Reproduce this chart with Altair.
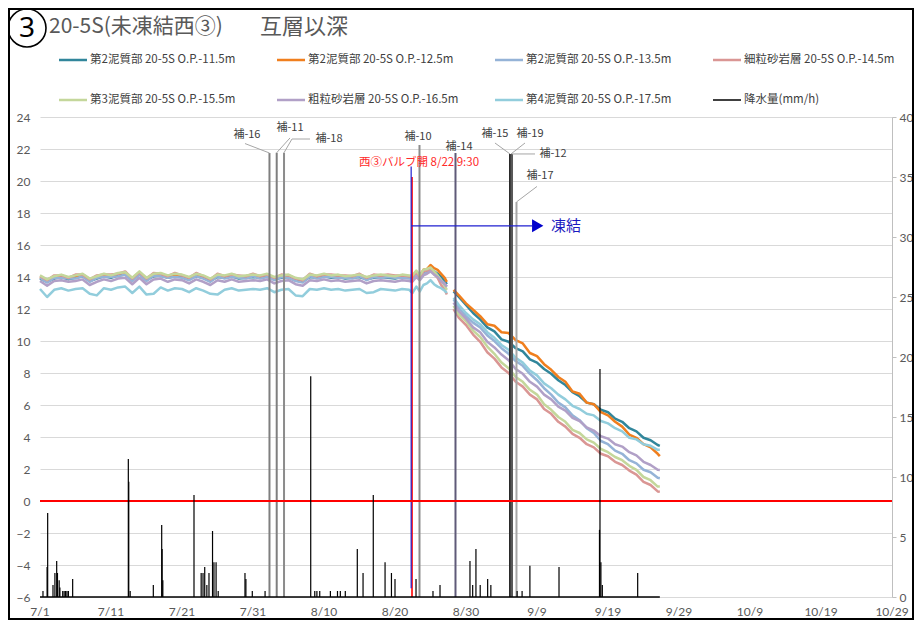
import altair as alt
import pandas as pd

# ---------------- data ----------------
series_names = [
    "第2泥質部 20-5S O.P.-11.5m",
    "第2泥質部 20-5S O.P.-12.5m",
    "第2泥質部 20-5S O.P.-13.5m",
    "細粒砂岩層 20-5S O.P.-14.5m",
    "第3泥質部 20-5S O.P.-15.5m",
    "粗粒砂岩層 20-5S O.P.-16.5m",
    "第4泥質部 20-5S O.P.-17.5m",
]
rain_name = "降水量(mm/h)"

# days since 7/1 (segment 1: 7/1 .. 8/27 morning, segment 2: 8/28 .. 9/26)
seg1_days = list(range(0, 53)) + [52.45, 53.0, 53.5, 54.0, 54.5, 55.0, 55.5, 56.0, 56.5, 57.0, 57.3]
seg2_days = [58.25] + list(range(59, 88)) + [87.3]

t115_s1 = [13.90, 13.70, 13.90, 14.00, 13.85, 13.95, 14.05, 13.75, 13.90, 14.05,
           13.95, 14.10, 14.15, 13.80, 14.20, 13.80, 14.05, 14.10, 13.95, 14.05,
           14.00, 13.85, 14.05, 13.95, 13.75, 14.00, 13.95, 14.05, 13.90, 13.95,
           14.00, 13.95, 14.05, 13.85, 13.95, 14.00, 13.80, 13.70, 14.00, 13.95,
           14.05, 13.95, 14.00, 13.90, 13.95, 14.00, 13.85, 13.95, 14.00, 13.95,
           13.90, 14.00, 13.95,
           13.90, 14.20, 14.00, 14.30, 14.35, 14.50, 14.35, 14.20, 14.00, 13.75, 13.55]
t125_s1 = [14.00, 13.80, 14.00, 14.10, 13.95, 14.05, 14.15, 13.85, 14.00, 14.15,
           14.05, 14.20, 14.25, 13.90, 14.30, 13.90, 14.15, 14.20, 14.05, 14.15,
           14.10, 13.95, 14.15, 14.05, 13.85, 14.10, 14.05, 14.15, 14.00, 14.05,
           14.10, 14.05, 14.15, 13.95, 14.05, 14.10, 13.90, 13.80, 14.10, 14.05,
           14.15, 14.05, 14.10, 14.00, 14.05, 14.10, 13.95, 14.05, 14.10, 14.05,
           14.00, 14.10, 14.05,
           14.00, 14.30, 14.10, 14.45, 14.50, 14.75, 14.55, 14.45, 14.20, 13.95, 13.70]
t135_s1 = [13.95, 13.65, 13.95, 13.95, 13.90, 13.90, 14.05, 13.70, 13.95, 14.00,
           14.00, 14.05, 14.15, 13.75, 14.15, 13.75, 14.10, 14.05, 13.95, 14.00,
           13.95, 13.80, 14.05, 13.90, 13.70, 14.05, 13.90, 14.00, 13.95, 13.90,
           14.05, 13.90, 14.00, 13.80, 14.00, 13.95, 13.75, 13.65, 14.05, 13.90,
           14.00, 14.00, 13.95, 13.95, 13.90, 14.05, 13.80, 14.00, 13.95, 14.00,
           13.95, 13.95, 13.90,
           13.90, 14.10, 13.90, 14.20, 14.25, 14.40, 14.20, 14.05, 13.80, 13.60, 13.40]
t145_s1 = [14.05, 13.80, 14.10, 14.10, 13.95, 14.15, 14.15, 13.85, 14.10, 14.15,
           14.15, 14.20, 14.35, 13.90, 14.30, 13.90, 14.25, 14.20, 14.05, 14.25,
           14.10, 13.95, 14.25, 14.05, 13.85, 14.20, 14.05, 14.15, 14.10, 14.05,
           14.20, 14.05, 14.15, 13.95, 14.15, 14.10, 13.90, 13.80, 14.20, 14.05,
           14.15, 14.15, 14.10, 14.10, 14.05, 14.20, 13.95, 14.15, 14.10, 14.15,
           14.10, 14.10, 14.05,
           14.00, 14.30, 14.00, 14.35, 14.40, 14.50, 14.20, 13.95, 13.50, 13.20, 12.90]
t155_s1 = [14.10, 13.85, 14.05, 14.15, 14.00, 14.10, 14.20, 13.90, 14.05, 14.20,
           14.10, 14.25, 14.30, 13.95, 14.35, 13.95, 14.20, 14.25, 14.10, 14.20,
           14.15, 14.00, 14.20, 14.10, 13.90, 14.15, 14.10, 14.20, 14.05, 14.10,
           14.15, 14.10, 14.20, 14.00, 14.10, 14.15, 13.95, 13.85, 14.15, 14.10,
           14.20, 14.10, 14.15, 14.05, 14.10, 14.15, 14.00, 14.10, 14.15, 14.10,
           14.05, 14.15, 14.10,
           14.10, 14.40, 14.10, 14.45, 14.50, 14.60, 14.35, 14.10, 13.80, 13.45, 13.20]
t165_s1 = [13.75, 13.45, 13.75, 13.80, 13.70, 13.75, 13.85, 13.50, 13.70, 13.85,
           13.75, 13.90, 13.95, 13.55, 13.95, 13.55, 13.85, 13.90, 13.70, 13.85,
           13.80, 13.60, 13.85, 13.70, 13.50, 13.80, 13.70, 13.85, 13.70, 13.75,
           13.80, 13.75, 13.85, 13.60, 13.75, 13.80, 13.55, 13.45, 13.80, 13.75,
           13.85, 13.75, 13.80, 13.70, 13.75, 13.80, 13.60, 13.75, 13.80, 13.75,
           13.70, 13.80, 13.75,
           13.70, 14.00, 13.80, 14.10, 14.20, 14.35, 14.15, 14.00, 13.75, 13.55, 13.40]
t175_s1 = [13.25, 12.75, 13.20, 13.30, 13.15, 13.25, 13.30, 12.95, 12.85, 13.30,
           13.20, 13.35, 13.40, 13.00, 13.40, 12.90, 12.95, 13.35, 13.15, 13.30,
           13.25, 13.05, 13.30, 13.15, 12.95, 12.90, 13.20, 13.30, 13.15, 13.20,
           13.25, 13.20, 13.30, 13.05, 13.20, 13.25, 12.85, 12.80, 13.25, 13.20,
           13.30, 13.20, 13.25, 13.15, 13.20, 13.25, 13.00, 13.05, 13.25, 13.20,
           13.15, 13.25, 13.20,
           13.00, 13.40, 13.10, 13.50, 13.60, 13.80, 13.55, 13.40, 13.30, 13.15, 13.00]

t115_s2 = [13.10, 12.75, 12.25, 11.75, 11.35, 10.85, 10.60, 10.10, 9.95, 9.55,
           9.35, 8.85, 8.65, 8.25, 7.95, 7.55, 7.25, 6.80, 6.55, 6.15,
           6.05, 5.70, 5.55, 5.15, 4.95, 4.55, 4.35, 3.95, 3.80, 3.50, 3.45]
t125_s2 = [13.20, 12.85, 12.35, 11.95, 11.55, 11.05, 10.95, 10.55, 10.50, 10.05,
           9.85, 9.25, 9.05, 8.55, 8.20, 7.75, 7.45, 6.85, 6.70, 6.15,
           6.05, 5.55, 5.35, 4.95, 4.65, 4.15, 3.95, 3.55, 3.35, 2.95, 2.80]
t135_s2 = [12.60, 12.05, 11.55, 11.15, 10.85, 10.35, 10.00, 9.55, 9.20, 8.75,
           8.45, 7.95, 7.55, 7.05, 6.65, 6.15, 5.85, 5.35, 5.05, 4.55,
           4.25, 3.75, 3.55, 3.15, 2.95, 2.55, 2.35, 1.95, 1.80, 1.45, 1.42]
t145_s2 = [12.00, 11.45, 11.00, 10.40, 9.95, 9.30, 8.90, 8.35, 8.00, 7.45,
           7.15, 6.65, 6.35, 5.75, 5.45, 4.95, 4.65, 4.20, 3.95, 3.55,
           3.35, 2.95, 2.80, 2.45, 2.25, 1.90, 1.65, 1.20, 1.00, 0.60, 0.58]
t155_s2 = [12.20, 11.65, 11.25, 10.65, 10.25, 9.65, 9.20, 8.65, 8.30, 7.75,
           7.45, 6.95, 6.65, 6.05, 5.70, 5.25, 4.95, 4.45, 4.25, 3.85,
           3.65, 3.25, 3.05, 2.75, 2.55, 2.20, 1.95, 1.50, 1.30, 0.90, 0.90]
t165_s2 = [12.40, 11.85, 11.40, 10.85, 10.55, 9.95, 9.60, 9.15, 8.80, 8.25,
           7.95, 7.45, 7.15, 6.65, 6.35, 5.90, 5.65, 5.20, 5.00, 4.60,
           4.40, 4.05, 3.90, 3.55, 3.40, 3.05, 2.85, 2.45, 2.25, 1.95, 1.94]
t175_s2 = [12.70, 12.25, 11.75, 11.35, 11.05, 10.55, 10.20, 9.75, 9.45, 8.95,
           8.65, 8.15, 7.85, 7.35, 7.05, 6.65, 6.35, 5.95, 5.75, 5.45,
           5.35, 5.00, 4.85, 4.55, 4.35, 3.95, 3.85, 3.55, 3.45, 3.20, 3.20]

seg1_values = [t115_s1, t125_s1, t135_s1, t145_s1, t155_s1, t165_s1, t175_s1]
seg2_values = [t115_s2, t125_s2, t135_s2, t145_s2, t155_s2, t165_s2, t175_s2]

# rainfall (mm/h) events
rain_days = [0.42, 1.0, 1.08, 1.83, 2.1, 2.35, 2.46, 2.7, 2.8, 3.2, 3.4, 3.6, 3.8, 4.0, 4.6,
             12.44, 12.5, 12.7, 15.96, 17.14, 17.2, 17.3,
             21.69, 22.7, 22.96, 23.2, 23.5, 23.8, 24.3, 24.5, 24.8, 25.1,
             28.87, 29.0, 29.9, 31.7,
             38.13, 38.7, 39.0, 39.4, 40.9, 41.9, 42.3, 43.0,
             44.69, 45.5, 46.94, 48.6, 49.5, 50.0, 52.96, 55.35, 56.34,
             60.56, 60.94, 61.4, 62.0, 63.05, 63.5, 67.2, 67.9, 69.0, 73.1,
             78.8, 78.87, 79.0, 79.2, 84.18]
rain_mm = [0.5, 2.5, 7.0, 1.0, 2.0, 3.0, 2.0, 1.4, 0.8, 0.5, 0.5, 0.5, 0.5, 0.5, 1.5,
           11.5, 9.6, 0.5, 1.0, 6.0, 4.0, 1.4,
           8.5, 2.0, 2.0, 2.5, 1.0, 2.0, 5.5, 2.9, 2.9, 0.5,
           2.0, 1.5, 0.5, 0.5,
           18.4, 0.5, 0.5, 0.5, 0.5, 0.5, 0.5, 0.5,
           4.0, 2.0, 8.5, 2.9, 2.0, 1.5, 1.5, 0.5, 1.0,
           3.0, 1.0, 4.0, 1.0, 1.5, 1.0, 0.5, 0.5, 2.6, 2.5,
           5.6, 19.0, 2.9, 1.0, 2.0]
rain_span = [0.0, 87.3]

# supplementary holes (補) : vertical lines
hole_names = ["補-16", "補-11", "補-18", "補-10", "補-14", "補-15", "補-19", "補-12", "補-17"]
hole_days = [32.32, 33.34, 34.37, 53.45, 58.52, 66.20, 66.34, 66.48, 67.11]
hole_tops = [21.75, 21.77, 21.77, 22.25, 21.75, 21.69, 21.69, 21.69, 18.69]
hole_label_days = [29.15, 35.21, 40.70, 53.24, 59.01, 64.08, 69.01, 72.25, 70.42]
hole_label_vals = [22.875, 23.31, 22.625, 22.78, 22.125, 22.94, 22.94, 21.69, 20.31]
# leader lines: (day1, val1, day2, val2)
leaders = [(32.32, 21.75, 28.87, 22.34), (33.34, 21.77, 35.21, 22.69),
           (34.37, 21.77, 35.49, 22.625), (35.49, 22.625, 38.03, 22.625),
           (66.20, 21.69, 64.08, 22.375), (66.34, 21.69, 68.31, 22.375),
           (66.48, 21.69, 69.72, 21.69), (67.11, 18.69, 70.00, 19.66)]

valve_day = 52.396
valve_label = "西③バルブ開 8/22 9:30"
freeze_label = "凍結"

x_tick_days = list(range(0, 121, 10))
x_tick_labels = ["7/1", "7/11", "7/21", "7/31", "8/10", "8/20", "8/30",
                 "9/9", "9/19", "9/29", "10/9", "10/19", "10/29"]
y_left_ticks = list(range(-6, 25, 2))
y_right_ticks = list(range(0, 41, 5))

# ---------------- styles ----------------
series_colors = ["#31869B", "#F07F1E", "#95B3D7", "#DA9694", "#C4D79B", "#B1A0C7", "#92CDDC"]
hole_colors = ["#7f7f7f", "#7f7f7f", "#8c8c8c", "#8c8c8c", "#5f5a78", "#262626", "#404040", "#595959", "#a6a6a6"]
JP = "Noto Sans CJK JP"
NUM = "Lato"
GRID = "#d9d9d9"
LABEL = "#595959"

rows = []
for name, s1, s2 in zip(series_names, seg1_values, seg2_values):
    assert len(s1) == len(seg1_days) and len(s2) == len(seg2_days)
    for d, v in zip(seg1_days, s1):
        rows.append({"series": name, "seg": 1, "day": d, "value": v})
    for d, v in zip(seg2_days, s2):
        rows.append({"series": name, "seg": 2, "day": d, "value": v})
df = pd.DataFrame(rows)

df_rain = pd.DataFrame({"day": rain_days, "mm": rain_mm, "zero": 0.0})
df_rain_base = pd.DataFrame({"d0": [rain_span[0]], "d1": [rain_span[1]], "zero": [0.0]})
df_holes = pd.DataFrame({"name": hole_names, "day": hole_days, "top": hole_tops, "bottom": -6.0})
df_hole_labels = pd.DataFrame({"name": hole_names, "day": hole_label_days, "value": hole_label_vals})
df_lead = pd.DataFrame(leaders, columns=["d1", "v1", "d2", "v2"])
df_valve = pd.DataFrame({"d": [valve_day], "db": [valve_day - 0.12],
                         "r0": [-6.0], "r1": [20.25], "b0": [-5.45], "b1": [20.9],
                         "da0": [valve_day - 0.1], "da1": [69.3], "arr": [17.2],
                         "tri": [70.1], "dlab": [71.97], "dv": [53.38], "vv": [21.125]})
df_zero = pd.DataFrame({"zero": [0.0]})
df_xt = pd.DataFrame({"day": x_tick_days, "label": x_tick_labels})
one = pd.DataFrame({"k": [0]})

x_scale = alt.Scale(domain=[0, 120], nice=False, zero=False)
x_axis = alt.Axis(values=x_tick_days, title=None, grid=True, gridColor=GRID, gridWidth=1,
                  domain=False, ticks=False, labels=False)
y_scale = alt.Scale(domain=[-6, 24], nice=False, zero=False)
y_axis = alt.Axis(values=y_left_ticks, title=None, grid=True, gridColor=GRID, gridWidth=1,
                  domain=False, ticks=False, labelFont=NUM, labelFontSize=12, labelColor=LABEL,
                  labelPadding=10)
y_r_scale = alt.Scale(domain=[0, 40], nice=False, zero=True)
y_r_axis = alt.Axis(orient="right", values=y_right_ticks, title=None, grid=False,
                    domain=True, domainColor="#bfbfbf", ticks=True, tickColor="#bfbfbf", tickSize=4,
                    labelFont=NUM, labelFontSize=12, labelColor=LABEL, labelPadding=3)


def X(field):
    return alt.X(field, scale=x_scale, axis=None)


def Y(field):
    return alt.Y(field, scale=y_scale, axis=None)


layers = []
for i, (name, col) in enumerate(zip(series_names, series_colors)):
    layers.append(
        alt.Chart(df).transform_filter(alt.datum.series == name)
        .mark_line(color=col, strokeWidth=2.5, strokeJoin="round")
        .encode(
            x=alt.X("day:Q", scale=x_scale, axis=x_axis if i == 0 else None),
            y=alt.Y("value:Q", scale=y_scale, axis=y_axis if i == 0 else None),
            detail="seg:N",
        )
    )

# x tick labels
layers.append(
    alt.Chart(df_xt).mark_text(font=NUM, fontSize=12, color=LABEL, baseline="middle")
    .encode(x=X("day:Q"), y=alt.value(480 + 15), text="label:N"))

# hole vertical lines, leaders, labels
layers.append(
    alt.Chart(df_holes).mark_rule(strokeWidth=2).encode(
        x=X("day:Q"), y=Y("bottom:Q"), y2="top:Q",
        color=alt.Color("name:N", scale=alt.Scale(domain=hole_names, range=hole_colors), legend=None),
    )
)
layers.append(
    alt.Chart(df_lead).mark_rule(color="#a6a6a6", strokeWidth=1).encode(
        x=X("d1:Q"), x2="d2:Q", y=Y("v1:Q"), y2="v2:Q"))
layers.append(
    alt.Chart(df_hole_labels).mark_text(font=JP, fontSize=11, color="#404040", baseline="middle")
    .encode(x=X("day:Q"), y=Y("value:Q"), text="name:N"))

# valve and freezing arrow
layers.append(alt.Chart(df_valve).mark_rule(color="#FF0000", strokeWidth=1.6)
              .encode(x=X("d:Q"), y=Y("r0:Q"), y2="r1:Q"))
layers.append(alt.Chart(df_valve).mark_rule(color="#2020D0", strokeWidth=1.2)
              .encode(x=X("db:Q"), y=Y("b0:Q"), y2="b1:Q"))
layers.append(alt.Chart(df_valve).mark_rule(color="#2020D0", strokeWidth=1.2)
              .encode(x=X("da0:Q"), x2="da1:Q", y=Y("arr:Q")))
layers.append(alt.Chart(df_valve).mark_point(shape="triangle-right", filled=True, size=170,
                                             color="#0000CC", opacity=1)
              .encode(x=X("tri:Q"), y=Y("arr:Q")))
layers.append(alt.Chart(df_valve).mark_text(font=JP, fontSize=15, color="#1A1AC0", align="left",
                                            baseline="middle")
              .encode(x=X("dlab:Q"), y=Y("arr:Q"), text=alt.value(freeze_label)))
layers.append(alt.Chart(df_valve).mark_text(font=JP, fontSize=11.5, color="#FF2A2A", baseline="middle")
              .encode(x=X("dv:Q"), y=Y("vv:Q"), text=alt.value(valve_label)))

# zero line
layers.append(alt.Chart(df_zero).mark_rule(color="#FF0000", strokeWidth=2).encode(y=Y("zero:Q")))

# rainfall on right axis
layers.append(
    alt.Chart(df_rain).mark_rule(color="#000000", strokeWidth=1.2).encode(
        x=X("day:Q"),
        y=alt.Y("zero:Q", scale=y_r_scale, axis=y_r_axis),
        y2="mm:Q",
    )
)
layers.append(
    alt.Chart(df_rain_base).mark_rule(color="#000000", strokeWidth=1.5).encode(
        x=X("d0:Q"), x2="d1:Q", y=alt.Y("zero:Q", scale=y_r_scale, axis=None)))

# legend (manual)
legend_labels = series_names + [rain_name]
legend_colors = series_colors + ["#000000"]
col_x = [19, 237, 455, 673]
row_y = [-57, -17]
for i, (lab, col) in enumerate(zip(legend_labels, legend_colors)):
    x0 = col_x[i % 4]
    y0 = row_y[i // 4]
    layers.append(
        alt.Chart(one).mark_rule(color=col, strokeWidth=2.5 if i < 7 else 1.5).encode(
            x=alt.value(x0), x2=alt.value(x0 + 28), y=alt.value(y0)))
    layers.append(
        alt.Chart(one).mark_text(font=JP, fontSize=11.5, color="#404040", align="left", baseline="middle")
        .encode(x=alt.value(x0 + 31), y=alt.value(y0), text=alt.value(lab)))

# title + circled number
layers.append(
    alt.Chart(one).mark_text(font=JP, fontSize=21, color=LABEL, align="left", baseline="middle")
    .encode(x=alt.value(9), y=alt.value(-90), text=alt.value("20-5S(未凍結西③)")))
layers.append(
    alt.Chart(one).mark_text(font=JP, fontSize=22, color=LABEL, align="left", baseline="middle")
    .encode(x=alt.value(220), y=alt.value(-90), text=alt.value("互層以深")))
layers.append(
    alt.Chart(one).mark_point(shape="circle", filled=False, size=1444, color="#000000",
                              strokeWidth=1.6, opacity=1)
    .encode(x=alt.value(-13), y=alt.value(-89)))
layers.append(
    alt.Chart(one).mark_text(font="Noto Sans", fontSize=28, color="#000000", align="center",
                             baseline="middle")
    .encode(x=alt.value(-13), y=alt.value(-88), text=alt.value("3")))

# outer frame
layers.append(
    alt.Chart(one).mark_rect(filled=False, stroke="#000000", strokeWidth=2).encode(
        x=alt.value(-31), x2=alt.value(852 + 21), y=alt.value(-108), y2=alt.value(480 + 22)))

chart = (
    alt.layer(*layers)
    .resolve_scale(y="independent")
    .properties(width=852, height=480,
                padding={"left": 32, "top": 109, "right": 22, "bottom": 23},
                autosize=alt.AutoSizeParams(type="none"))
    .configure_view(stroke=None)
)

chart.save("out.html", embed_options={"renderer": "svg", "actions": False})
